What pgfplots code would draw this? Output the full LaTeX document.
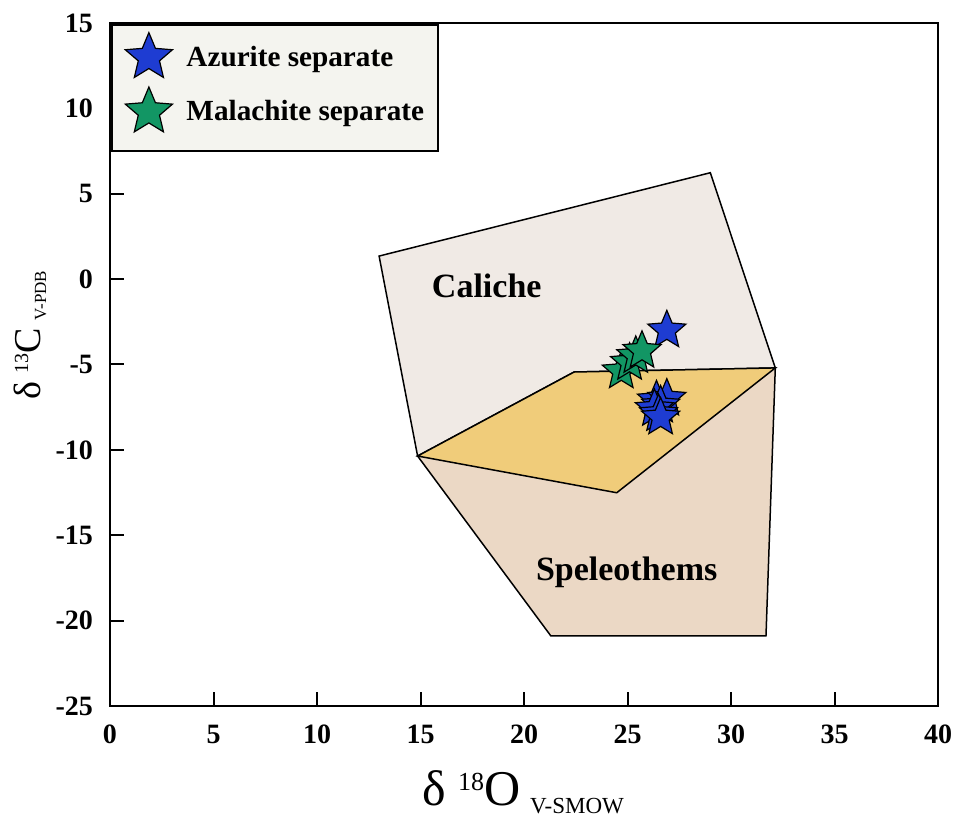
\documentclass[border=0pt]{standalone}
\usepackage{fontspec}
\setmainfont{Liberation Serif}
\usepackage{pgfplots}
\pgfplotsset{compat=1.18}

\definecolor{azurite}{RGB}{30,60,210}
\definecolor{malachite}{RGB}{18,150,100}
\definecolor{calichefill}{RGB}{240,234,229}
\definecolor{speleofill}{RGB}{235,216,197}
\definecolor{overlapfill}{RGB}{240,204,122}
\definecolor{legendfill}{RGB}{244,244,239}

% filled five-pointed star
\pgfdeclareplotmark{fstar}{%
  \pgfpathmoveto{\pgfpointpolar{90}{\pgfplotmarksize}}%
  \pgfpathlineto{\pgfpointpolar{126}{0.45*\pgfplotmarksize}}%
  \pgfpathlineto{\pgfpointpolar{162}{\pgfplotmarksize}}%
  \pgfpathlineto{\pgfpointpolar{198}{0.45*\pgfplotmarksize}}%
  \pgfpathlineto{\pgfpointpolar{234}{\pgfplotmarksize}}%
  \pgfpathlineto{\pgfpointpolar{270}{0.45*\pgfplotmarksize}}%
  \pgfpathlineto{\pgfpointpolar{306}{\pgfplotmarksize}}%
  \pgfpathlineto{\pgfpointpolar{342}{0.45*\pgfplotmarksize}}%
  \pgfpathlineto{\pgfpointpolar{18}{\pgfplotmarksize}}%
  \pgfpathlineto{\pgfpointpolar{54}{0.45*\pgfplotmarksize}}%
  \pgfpathclose
  \pgfusepathqfillstroke
}

\pgfplotsset{
  bigstar legend/.style={legend image code/.code={%
    \path (0pt,-15.5pt) (0pt,12.4pt);
    \draw[##1, mark size=12.4pt] plot coordinates {(0pt,0pt)};}},
}

\begin{document}
\begin{tikzpicture}
\begin{axis}[
  scale only axis,
  width=414pt, height=341.5pt,
  xmin=0, xmax=40, ymin=-25, ymax=15,
  xtick={0,5,...,40}, ytick={-25,-20,...,15},
  xticklabels={0,5,10,15,20,25,30,35,40},
  yticklabels={-25,-20,-15,-10,-5,0,5,10,15},
  xtick pos=bottom, ytick pos=left,
  tick align=inside, major tick length=7pt,
  tick style={black, line width=1pt},
  axis line style={line width=1.3pt},
  ticklabel style={font=\fontsize{14}{14}\selectfont\bfseries},
  xticklabel style={yshift=-6pt},
  yticklabel style={xshift=-5pt},
  xlabel={\fontsize{25}{25}\selectfont δ\hspace{6pt}\raisebox{7.5pt}{\fontsize{13}{13}\selectfont 18}O\hspace{5pt}\raisebox{-4pt}{\fontsize{11.5}{11.5}\selectfont V-SMOW}},
  xlabel style={at={(axis description cs:0.499,-0.145)}, anchor=base, inner sep=0pt},
  ylabel={\fontsize{19}{19}\selectfont δ\hspace{4pt}\raisebox{6pt}{\fontsize{10}{10}\selectfont 13}C\hspace{4pt}\raisebox{-3pt}{\fontsize{8.5}{8.5}\selectfont V-PDB}},
  ylabel style={at={(axis description cs:-0.0845,0.543)}, anchor=base, inner sep=0pt},
  legend style={at={(0,1)}, anchor=north west, draw=black, line width=1.3pt,
    fill=legendfill, font=\fontsize{14.6}{14.6}\selectfont\bfseries,
    inner xsep=7pt, inner ysep=3.5pt, row sep=-2pt, column sep=7pt,
    cells={anchor=west}, nodes={inner sep=0pt}},
]
\coordinate (sw) at (rel axis cs:0,0);
\coordinate (ne) at (rel axis cs:1,1);

% Caliche field
\addplot[forget plot, fill=calichefill, draw=black, line width=0.75pt]
  coordinates {(13.0,1.35) (29.0,6.23) (32.14,-5.2) (24.48,-12.51) (14.86,-10.36)} -- cycle;
% Speleothem field
\addplot[forget plot, fill=speleofill, draw=black, line width=0.75pt]
  coordinates {(14.86,-10.36) (22.42,-5.44) (32.14,-5.2) (31.69,-20.9) (21.3,-20.9)} -- cycle;
% overlap of both fields
\addplot[forget plot, fill=overlapfill, draw=black, line width=0.75pt]
  coordinates {(14.86,-10.36) (22.42,-5.44) (32.14,-5.2) (24.48,-12.51)} -- cycle;

\node[font=\fontsize{17}{17}\selectfont\bfseries] at (axis cs:18.2,-0.4) {Caliche};
\node[font=\fontsize{17}{17}\selectfont\bfseries] at (axis cs:24.96,-17.2) {Speleothems};

\addplot[only marks, mark=fstar, mark size=10pt,
  mark options={fill=azurite, draw=black, line width=0.6pt}, bigstar legend]
  coordinates {(26.9,-3.0) (26.4,-7.1) (26.9,-7.0) (26.6,-7.4) (26.3,-7.6) (26.5,-7.9) (26.6,-8.1)};
\addlegendentry{Azurite separate}

\addplot[only marks, mark=fstar, mark size=10pt,
  mark options={fill=malachite, draw=black, line width=0.6pt}, bigstar legend]
  coordinates {(24.7,-5.4) (25.1,-4.9) (25.4,-4.5) (25.7,-4.2)};
\addlegendentry{Malachite separate}
\end{axis}
\pgfresetboundingbox
\path (sw) ++(-55pt,-58.5pt);
\path (ne) ++(11.5pt,11.5pt);
\end{tikzpicture}
\end{document}
